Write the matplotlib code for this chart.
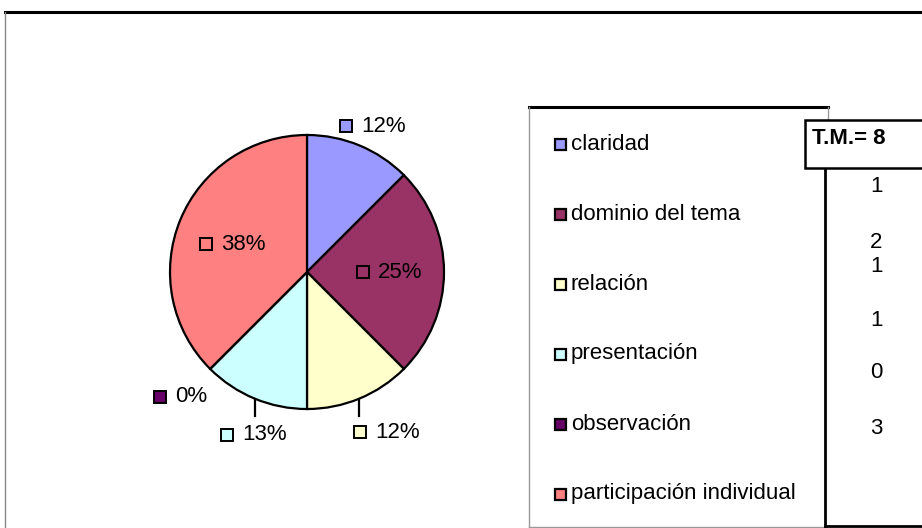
import numpy as np
import matplotlib
matplotlib.use("Agg")
import matplotlib.pyplot as plt
from matplotlib.patches import Rectangle

categories = ["claridad", "dominio del tema", "relación", "presentación",
              "observación", "participación individual"]
counts = [1, 2, 1, 1, 0, 3]
pct_labels = ["12%", "25%", "12%", "13%", "0%", "38%"]
colors = ["#9999FF", "#993366", "#FFFFCC", "#CCFFFF", "#660066", "#FF8080"]
table_title = "T.M.= 8"

W, H = 922, 528
plt.rcParams['font.family'] = ['Liberation Sans', 'DejaVu Sans']
FS = 16

fig = plt.figure(figsize=(W / 100, H / 100), dpi=100)
ax = fig.add_axes([0, 0, 1, 1])

def Y(y):
    # pixel row (top down) -> axis y
    return H - y

cx, cy, r = 307, 272, 137
ax.pie(counts, colors=colors, startangle=90, counterclock=False,
       center=(cx, Y(cy)), radius=r,
       wedgeprops=dict(edgecolor="black", linewidth=1.6))
ax.set_xlim(0, W)
ax.set_ylim(0, H)
ax.set_aspect("equal")
ax.axis("off")

# data labels: key square + percentage (pixel layout, top-down)
label_pos = [(340, 126), (357, 272), (354, 432), (221, 435), (154, 397), (200, 244)]
leader = [False, False, True, True, False, False]
ks = 12
mids = 90 - 360 * (np.cumsum(counts) - np.array(counts) / 2) / sum(counts)
for i, (lx, ly) in enumerate(label_pos):
    ax.add_patch(Rectangle((lx, Y(ly) - ks / 2), ks, ks, facecolor=colors[i],
                           edgecolor="black", linewidth=1.4, zorder=5))
    ax.text(lx + ks + 9, Y(ly), pct_labels[i], fontsize=FS, va="center",
            ha="left", color="black", zorder=5)
    if leader[i]:
        a = np.deg2rad(mids[i])
        px, py = cx + r * np.cos(a), Y(cy) + r * np.sin(a)
        ax.plot([px, px], [py, py - 17], color="black", lw=1.6, zorder=4)

# outer chart frame
ax.plot([5, W], [Y(12), Y(12)], color="black", lw=2.2)
ax.plot([5, 5], [Y(12), 0], color="#888888", lw=1)

# legend box
ax.plot([529, 828], [Y(107), Y(107)], color="black", lw=2.2)
ax.plot([529, 529], [Y(107), Y(527)], color="#999999", lw=1)
ax.plot([529, 825], [Y(527), Y(527)], color="#999999", lw=1)
ax.plot([828, 828], [Y(107), Y(120)], color="#999999", lw=1)
for i, cat in enumerate(categories):
    ly = 144 + 70 * i
    ax.add_patch(Rectangle((555, Y(ly) - 6), 11, 11, facecolor=colors[i],
                           edgecolor="black", linewidth=1.6, zorder=5))
    ax.text(571, Y(ly), cat, fontsize=FS, va="center", ha="left")

# table with total
ax.add_patch(Rectangle((805, Y(168)), 140, 48, facecolor="white",
                       edgecolor="black", linewidth=1.8, zorder=6, clip_on=False))
ax.text(812, Y(139), table_title, fontsize=FS, fontweight="bold",
        va="center", ha="left", zorder=7)
ax.plot([825, 825], [Y(168), Y(526)], color="black", lw=2)
ax.plot([825, W], [Y(526), Y(526)], color="black", lw=2)
num_y = [187, 242, 267, 320, 373, 428]
for v, ny in zip(counts, num_y):
    ax.text(876, Y(ny), str(v), fontsize=FS, va="center", ha="center")

fig.savefig("out.png", dpi=100)
